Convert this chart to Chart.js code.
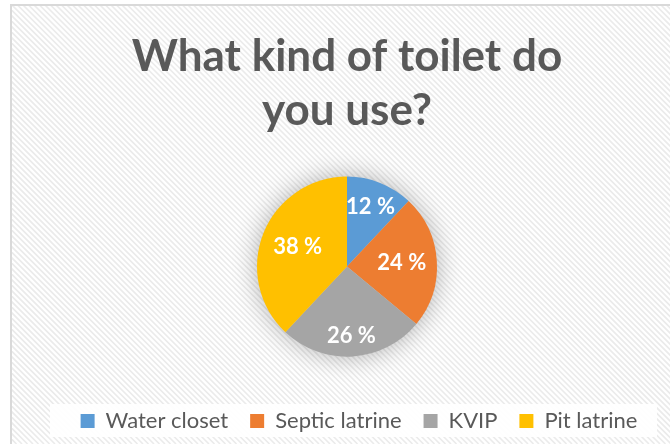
<!DOCTYPE html>
<html>
<head>
<meta charset="utf-8">
<script src="https://cdn.jsdelivr.net/npm/chart.js@4/dist/chart.umd.min.js"></script>
<style>
html,body{margin:0;padding:0;background:#fff;overflow:hidden;}
#wrap{width:670px;height:444px;position:relative;}
</style>
</head>
<body>
<div id="wrap"><canvas id="c" width="670" height="444"></canvas></div>
<script>
const categories = ['Water closet', 'Septic latrine', 'KVIP', 'Pit latrine'];
const percentages = [12, 24, 26, 38];
const sliceColors = ['#5B9BD5', '#ED7D31', '#A5A5A5', '#FFC000'];
const titleLines = ['What kind of toilet do', 'you use?'];

const FONT = 'Lato, "Open Sans", sans-serif';

const backgroundPlugin = {
  id: 'bgHatch',
  beforeDraw(chart) {
    const ctx = chart.ctx;
    const W = chart.width, H = chart.height;
    ctx.save();
    ctx.fillStyle = '#ffffff';
    ctx.fillRect(0, 0, W, H);
    ctx.beginPath();
    ctx.rect(12, 6, W, H);
    ctx.clip();
    ctx.strokeStyle = '#ebebeb';
    ctx.lineWidth = 1.6;
    for (let x = -H; x < W + H; x += 5.5) {
      ctx.beginPath();
      ctx.moveTo(x, 0);
      ctx.lineTo(x + H, H);
      ctx.stroke();
    }
    ctx.restore();
    ctx.save();
    ctx.strokeStyle = '#d9d9d9';
    ctx.lineWidth = 2;
    ctx.beginPath();
    ctx.moveTo(11, H + 5);
    ctx.lineTo(11, 5);
    ctx.lineTo(W + 5, 5);
    ctx.stroke();
    if (chart.legend) {
      ctx.fillStyle = 'rgba(255,255,255,0.92)';
      ctx.fillRect(50, 404, 607, 33);
    }
    ctx.restore();
  },
  afterLayout(chart) {
    const lg = chart.legend;
    if (lg) { lg.left += 12; lg.right += 12; }
  },
  beforeDatasetsDraw(chart) {
    const meta = chart.getDatasetMeta(0);
    if (!meta.data.length) return;
    const arc = meta.data[0];
    const ctx = chart.ctx;
    ctx.save();
    ctx.shadowColor = 'rgba(0,0,0,0.32)';
    ctx.shadowBlur = 26;
    ctx.fillStyle = '#cfcfcf';
    ctx.beginPath();
    ctx.arc(arc.x, arc.y, arc.outerRadius - 1, 0, Math.PI * 2);
    ctx.fill();
    ctx.restore();
  }
};

const labelPlugin = {
  id: 'sliceLabels',
  afterDatasetsDraw(chart) {
    const ctx = chart.ctx;
    const meta = chart.getDatasetMeta(0);
    const frac = [0.71, 0.61, 0.77, 0.59];
    ctx.save();
    ctx.fillStyle = '#ffffff';
    ctx.font = 'bold 22px ' + FONT;
    ctx.textAlign = 'center';
    ctx.textBaseline = 'middle';
    meta.data.forEach((arc, i) => {
      const mid = (arc.startAngle + arc.endAngle) / 2;
      const r = arc.outerRadius * frac[i];
      const x = arc.x + Math.cos(mid) * r;
      const y = arc.y + Math.sin(mid) * r;
      ctx.fillText(percentages[i] + ' %', x, y);
    });
    ctx.restore();
  }
};

new Chart(document.getElementById('c'), {
  type: 'pie',
  data: {
    labels: categories,
    datasets: [{
      data: percentages,
      backgroundColor: sliceColors,
      borderWidth: 0,
      radius: 90
    }]
  },
  options: {
    responsive: false,
    animation: false,
    layout: { padding: { left: 24, right: 0, top: 0, bottom: 2 } },
    plugins: {
      title: {
        display: true,
        text: titleLines,
        color: '#595959',
        font: { family: FONT, size: 44, weight: 'bold', lineHeight: 1.23 },
        padding: { top: 30, bottom: 7 }
      },
      legend: {
        position: 'bottom',
        labels: {
          color: '#595959',
          font: { family: FONT, size: 22 },
          boxWidth: 14,
          boxHeight: 14,
          padding: 22
        }
      },
      tooltip: { enabled: false }
    }
  },
  plugins: [backgroundPlugin, labelPlugin]
});
</script>
</body>
</html>
